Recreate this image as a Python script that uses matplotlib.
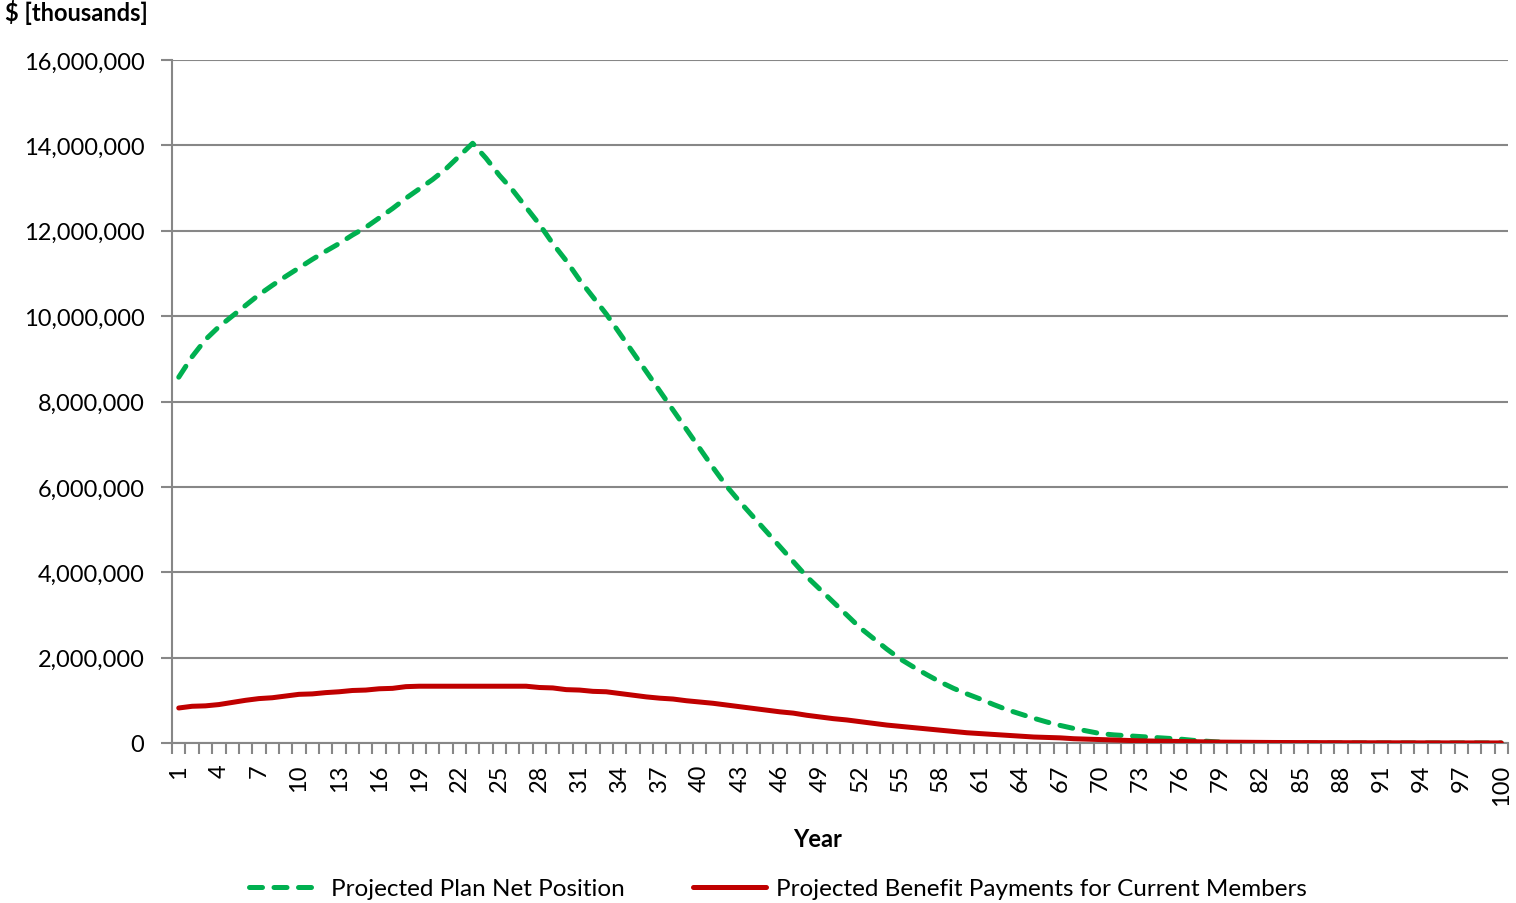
import matplotlib
matplotlib.use("Agg")
import matplotlib.pyplot as plt
from matplotlib.ticker import FuncFormatter, FixedLocator
import numpy as np

years = list(range(1, 101))

# Projected Plan Net Position ($ thousands)
net_position_m = [
    8.57, 9.05, 9.45, 9.75, 10.0, 10.25, 10.5, 10.72, 10.93, 11.13,
    11.33, 11.52, 11.7, 11.9, 12.08, 12.3, 12.52, 12.76, 12.98, 13.2,
    13.45, 13.75, 14.05, 13.7, 13.3, 12.95, 12.55, 12.15, 11.7, 11.3,
    10.85, 10.45, 10.05, 9.6, 9.15, 8.7, 8.25, 7.8, 7.35, 6.9,
    6.45, 6.02, 5.65, 5.3, 4.95, 4.6, 4.25, 3.9, 3.6, 3.3,
    3.0, 2.7, 2.45, 2.2, 1.97, 1.78, 1.6, 1.43, 1.28, 1.15,
    1.03, 0.9, 0.78, 0.68, 0.58, 0.49, 0.41, 0.34, 0.28, 0.22,
    0.19, 0.17, 0.15, 0.13, 0.11, 0.09, 0.06, 0.04, 0.02, 0.01,
    0.005, 0.0, 0.0, 0.0, 0.0, 0.0, 0.0, 0.0, 0.0, 0.0,
    0.0, 0.0, 0.0, 0.0, 0.0, 0.0, 0.0, 0.0, 0.0, 0.0,
]

# Projected Benefit Payments for Current Members ($ thousands)
benefit_payments_m = [
    0.82, 0.86, 0.87, 0.9, 0.95, 1.0, 1.04, 1.06, 1.1, 1.14,
    1.15, 1.18, 1.2, 1.23, 1.24, 1.27, 1.28, 1.32, 1.33, 1.33,
    1.33, 1.33, 1.33, 1.33, 1.33, 1.33, 1.33, 1.3, 1.29, 1.25,
    1.24, 1.21, 1.2, 1.16, 1.12, 1.08, 1.05, 1.03, 0.99, 0.96,
    0.93, 0.89, 0.85, 0.81, 0.77, 0.73, 0.7, 0.65, 0.61, 0.57,
    0.54, 0.5, 0.46, 0.42, 0.39, 0.36, 0.33, 0.3, 0.27, 0.24,
    0.22, 0.2, 0.18, 0.16, 0.14, 0.13, 0.12, 0.1, 0.09, 0.08,
    0.07, 0.06, 0.05, 0.045, 0.04, 0.035, 0.03, 0.025, 0.02, 0.018,
    0.016, 0.014, 0.012, 0.011, 0.01, 0.009, 0.008, 0.007, 0.006, 0.005,
    0.005, 0.004, 0.004, 0.003, 0.003, 0.002, 0.002, 0.002, 0.001, 0.001,
]

net_position = [v * 1e6 for v in net_position_m]
benefit_payments = [v * 1e6 for v in benefit_payments_m]

series_labels = ["Projected Plan Net Position",
                 "Projected Benefit Payments for Current Members"]

plt.rcParams['font.family'] = ['Lato', 'DejaVu Sans']
FS = 17

fig = plt.figure(figsize=(15.16, 9.04), dpi=100)
ax = fig.add_axes([0.1135, 0.177, 0.8812, 0.7555])

x = np.arange(len(years))
green = "#00B050"
red = "#C00000"
grid_c = "#878787"

ax.plot(x, net_position, color=green, lw=3.6, linestyle=(0, (2.6, 2.3)),
        dash_capstyle='round', solid_capstyle='round', label=series_labels[0], zorder=3)
ax.plot(x, benefit_payments, color=red, lw=3.6, solid_capstyle='round',
        label=series_labels[1], zorder=4)

ax.set_xlim(-0.5, len(years) - 0.5)
ax.set_ylim(0, 16e6)
ax.yaxis.set_major_locator(FixedLocator(np.arange(0, 16e6 + 1, 2e6)))
ax.yaxis.set_major_formatter(FuncFormatter(lambda v, p: f"{int(v):,}"))
ax.grid(axis='y', color=grid_c, lw=1.5)
ax.set_axisbelow(True)

# x ticks: labels every 3rd year, tick marks at category boundaries
label_pos = [i for i in range(0, len(years), 3)]
ax.set_xticks(label_pos)
ax.set_xticklabels([str(years[i]) for i in label_pos], rotation=90)
ax.tick_params(axis='x', which='major', length=0, pad=15, labelsize=FS)
ax.set_xticks(np.arange(-0.5, len(years), 1.0), minor=True)
ax.tick_params(axis='x', which='minor', length=8, width=1.5, color=grid_c, direction='out')
ax.tick_params(axis='y', length=8, width=1.5, color=grid_c, labelsize=FS, pad=12)

for s in ['top', 'right']:
    ax.spines[s].set_visible(False)
for s in ['left', 'bottom']:
    ax.spines[s].set_color(grid_c)
    ax.spines[s].set_linewidth(1.5)

ax.set_xlabel("Year", fontsize=FS, fontweight='bold', labelpad=16, x=0.4835)
fig.text(0.003, 0.986, "$ [thousands]", fontsize=FS, fontweight='bold', ha='left', va='center')

fig.legend(loc='center', bbox_to_anchor=(0.513, 0.016), ncol=2, frameon=False,
           fontsize=17.5, handlelength=3.0, columnspacing=2.8, handletextpad=0.4)

fig.savefig("out.png", dpi=100)
